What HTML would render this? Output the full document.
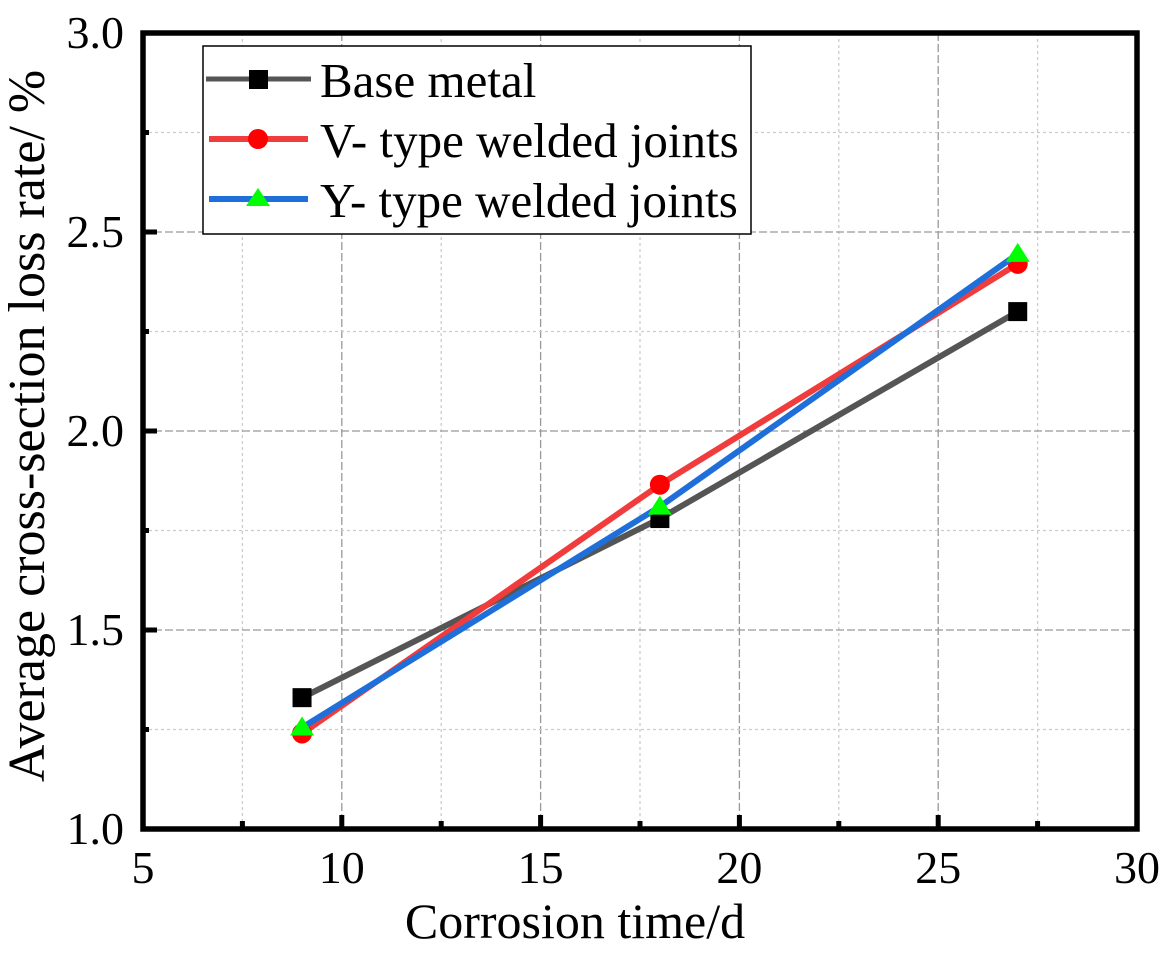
<!DOCTYPE html>
<html><head><meta charset="utf-8"><style>
body{margin:0;background:#fff}
svg text{font-family:"Liberation Serif",serif;fill:#000}
</style></head><body>
<svg width="1173" height="948">
<g id="grid"></g>
<g id="series"></g>
<g id="ticks"></g>
<rect x="143" y="33" width="994" height="796" fill="none" stroke="#000" stroke-width="5.5"/>
<text x="575" y="938" font-size="50" text-anchor="middle">Corrosion time/d</text>
<text transform="translate(44,426) rotate(-90)" font-size="52" text-anchor="middle">Average cross-section loss rate/ %</text>
<g>
<rect x="203" y="46" width="548" height="188" fill="#fff" stroke="#000" stroke-width="1.5"/>
<g><line x1="206" y1="79" x2="311" y2="79" stroke="#555" stroke-width="5"/><rect x="249" y="70" width="19" height="19" fill="#000"/><text x="320" y="97" font-size="49">Base metal</text></g>
<g><line x1="209" y1="139" x2="308" y2="139" stroke="#f03c3c" stroke-width="6"/><circle cx="258" cy="139" r="10" fill="#f00"/><text x="320" y="157" font-size="49">V- type welded joints</text></g>
<g><line x1="209" y1="199" x2="308" y2="199" stroke="#1e6fd9" stroke-width="6"/><polygon points="258,188 270,206 246,206" fill="#0f0"/><text x="320" y="217" font-size="49">Y- type welded joints</text></g>
</g>
</svg>
<script>
const xs=[9,18,27];
const baseVals=[1.33,1.78,2.30];
const vVals=[1.24,1.865,2.42];
const yVals=[1.255,1.81,2.445];
const xTicks=[5,10,15,20,25,30];
const yTicks=[1.0,1.5,2.0,2.5,3.0];
const NS="http://www.w3.org/2000/svg";
const X=v=>143+(v-5)*(994/25), Y=v=>829-(v-1)*398;
function mk(t,a,p){const e=document.createElementNS(NS,t);for(const k in a)e.setAttribute(k,a[k]);p.appendChild(e);return e;}
const g=document.getElementById('grid'),tk=document.getElementById('ticks'),s=document.getElementById('series');
for(let v=5;v<=30;v+=2.5){const maj=v%5===0;const l=mk('line',{x1:X(v),x2:X(v),y1:33,y2:829,stroke:maj?'#999':'#ccc','stroke-width':1.3,'stroke-dasharray':maj?'8,3':'3,3'},g);

const t=mk('line',{x1:X(v),x2:X(v),y1:829,y2:maj?815:821,stroke:'#000','stroke-width':5},tk);}
for(let v=1;v<=3.001;v+=0.25){const maj=Math.abs(v*2-Math.round(v*2))<1e-6;const l=mk('line',{x1:143,x2:1137,y1:Y(v),y2:Y(v),stroke:maj?'#999':'#ccc','stroke-width':1.3,'stroke-dasharray':maj?'8,3':'3,3'},g);

const t=mk('line',{x1:143,x2:maj?157:149,y1:Y(v),y2:Y(v),stroke:'#000','stroke-width':5},tk);}
xTicks.forEach(v=>{const t=mk('text',{x:X(v),y:883,'font-size':46,'text-anchor':'middle'},tk);t.textContent=v;});
yTicks.forEach(v=>{const t=mk('text',{x:124,y:Y(v)+15,'font-size':46,'text-anchor':'end'},tk);t.textContent=v.toFixed(1);});
function series(vals,col,kind,name){const p=mk('polyline',{points:xs.map((x,i)=>X(x)+','+Y(vals[i])).join(' '),fill:'none',stroke:col,'stroke-width':6},s);

xs.forEach((x,i)=>{const cx=X(x),cy=Y(vals[i]);let m;
if(kind==='sq')m=mk('rect',{x:cx-9.5,y:cy-9.5,width:19,height:19,fill:'#000'},s);
else if(kind==='c')m=mk('circle',{cx,cy,r:10,fill:'#f00'},s);
else m=mk('polygon',{points:`${cx},${cy-11} ${cx+12},${cy+8} ${cx-12},${cy+8}`,fill:'#0f0'},s);
});}
series(baseVals,'#555','sq','base-metal');
series(vVals,'#f03c3c','c','v-type');
series(yVals,'#1e6fd9','t','y-type');
</script>
</body></html>
